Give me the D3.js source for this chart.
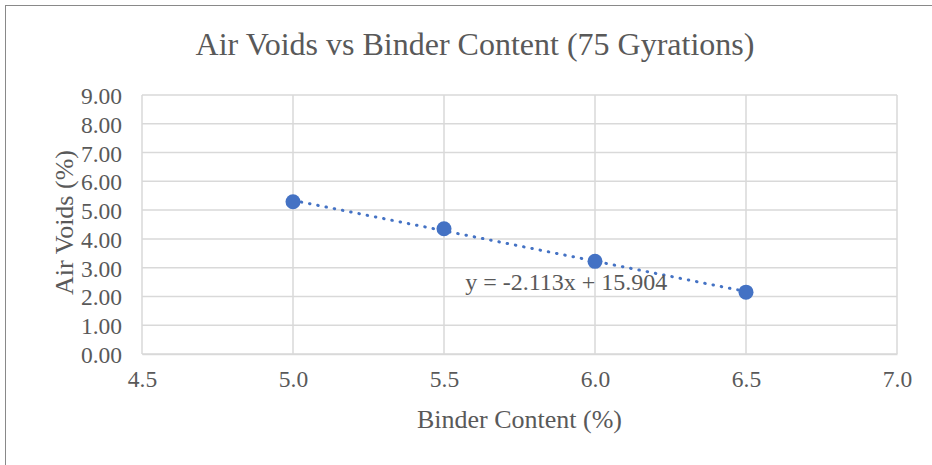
<!DOCTYPE html>
<html>
<head>
<meta charset="utf-8">
<script src="https://cdn.jsdelivr.net/npm/d3@7"></script>
<style>
  body { margin: 0; background: #fff; }
  text { font-family: "Liberation Serif", "Times New Roman", serif; fill: #595959; }
</style>
</head>
<body>
<svg id="chart" width="932" height="465"></svg>
<script>
// data
var binder = [5.0, 5.5, 6.0, 6.5];
var airVoids = [5.29, 4.35, 3.22, 2.15];
var xTicks = [4.5, 5.0, 5.5, 6.0, 6.5, 7.0];
var yTicks = [0, 1, 2, 3, 4, 5, 6, 7, 8, 9];
var trendSlope = -2.113;
var trendIntercept = 15.904;

var svg = d3.select("#chart");
var margin = {left: 142, right: 35, top: 95, bottom: 111};
var w = 932 - margin.left - margin.right;
var h = 465 - margin.top - margin.bottom;

// outer chart border
svg.append("rect")
  .attr("x", 5.5).attr("y", 5.5)
  .attr("width", 940).attr("height", 470)
  .attr("fill", "none").attr("stroke", "#898989").attr("stroke-width", 1);

var x = d3.scaleLinear().domain([4.5, 7.0]).range([0, w]);
var y = d3.scaleLinear().domain([0, 9]).range([h, 0]);

var g = svg.append("g").attr("transform", "translate(" + margin.left + "," + margin.top + ")");

// gridlines
g.selectAll(".hgrid").data(yTicks).enter().append("line")
  .attr("x1", 0).attr("x2", w)
  .attr("y1", d => y(d)).attr("y2", d => y(d))
  .attr("stroke", "#d9d9d9").attr("stroke-width", 1.5);

g.selectAll(".vgrid").data(xTicks).enter().append("line")
  .attr("x1", d => x(d)).attr("x2", d => x(d))
  .attr("y1", 0).attr("y2", h)
  .attr("stroke", "#d9d9d9").attr("stroke-width", 1.5);

// axes
var yAxis = d3.axisLeft(y).tickValues(yTicks).tickFormat(d3.format(".2f")).tickSize(0).tickPadding(20);
g.append("g").attr("font-family", null).call(yAxis).call(a => a.select(".domain").remove())
  .selectAll("text").attr("font-size", 23.5).attr("fill", "#595959")
  .attr("dy", "0.36em");

var xAxis = d3.axisBottom(x).tickValues(xTicks).tickFormat(d3.format(".1f")).tickSize(0).tickPadding(16);
g.append("g").attr("transform", "translate(0," + h + ")").call(xAxis)
  .call(a => a.select(".domain").attr("stroke", "#d9d9d9").attr("stroke-width", 1.5))
  .selectAll("text").attr("font-size", 23.5).attr("fill", "#595959");

// trendline
var trend = [binder[0], binder[binder.length - 1]].map(v => [v, trendSlope * v + trendIntercept]);
g.append("path")
  .datum(trend)
  .attr("d", d3.line().x(d => x(d[0])).y(d => y(d[1])))
  .attr("fill", "none").attr("stroke", "#4472c4")
  .attr("stroke-width", 3).attr("stroke-linecap", "round")
  .attr("stroke-dasharray", "0.5 7.9");

// markers
g.selectAll(".pt").data(binder).enter().append("circle")
  .attr("cx", d => x(d))
  .attr("cy", (d, i) => y(airVoids[i]))
  .attr("r", 7.5)
  .attr("fill", "#4472c4");

// equation label
g.append("text")
  .attr("x", x(5.57)).attr("y", y(2.22))
  .attr("font-size", 24)
  .text("y = " + trendSlope + "x + " + trendIntercept);

// titles
svg.append("text")
  .attr("x", 475).attr("y", 55)
  .attr("text-anchor", "middle").attr("font-size", 32)
  .text("Air Voids vs Binder Content (75 Gyrations)");

svg.append("text")
  .attr("x", margin.left + w / 2).attr("y", 428)
  .attr("text-anchor", "middle").attr("font-size", 26)
  .text("Binder Content (%)");

svg.append("text")
  .attr("transform", "translate(73," + (margin.top + h / 2 - 2) + ") rotate(-90)")
  .attr("text-anchor", "middle").attr("font-size", 26)
  .text("Air Voids (%)");
</script>
</body>
</html>
